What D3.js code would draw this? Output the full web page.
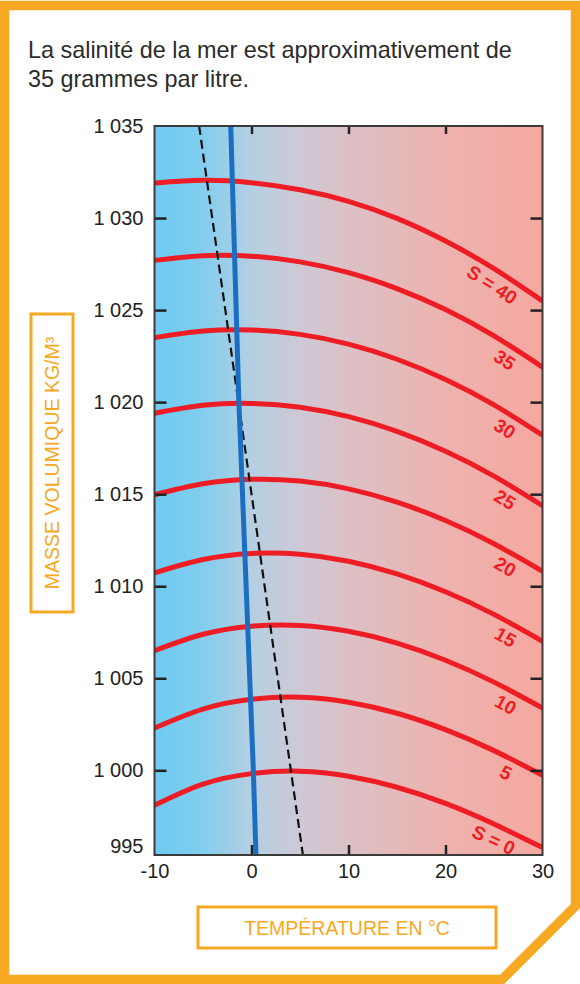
<!DOCTYPE html>
<html>
<head>
<meta charset="utf-8">
<script src="https://cdn.jsdelivr.net/npm/d3@7"></script>
<style>
  body { margin: 0; background: #fff; }
  svg { display: block; }
</style>
</head>
<body>
<svg id="svg" width="580" height="984"></svg>
<script>
// temperatures (°C) at which the curves were read
const temps = [-10, -5, 0, 5, 10, 15, 20, 25, 30]
const salinities = [0, 5, 10, 15, 20, 25, 30, 35, 40]
const curveLabels = ["S = 0", "5", "10", "15", "20", "25", "30", "35", "S = 40"]

// density kg/m3 for each salinity
const dens0  = [998.1, 999.25, 999.82, 999.95, 999.68, 999.08, 998.2, 997.08, 995.8]
const dens5  = [1002.3, 1003.33, 1003.86, 1003.97, 1003.7, 1003.1, 1002.21, 1001.07, 999.73]
const dens10 = [1006.5, 1007.39, 1007.83, 1007.87, 1007.55, 1006.91, 1005.98, 1004.79, 1003.38]
const dens15 = [1010.72, 1011.45, 1011.78, 1011.74, 1011.36, 1010.67, 1009.7, 1008.47, 1007.01]
const dens20 = [1014.97, 1015.57, 1015.81, 1015.71, 1015.29, 1014.57, 1013.57, 1012.31, 1010.81]
const dens25 = [1019.4, 1019.83, 1019.93, 1019.72, 1019.21, 1018.41, 1017.33, 1015.98, 1014.37]
const dens30 = [1023.5, 1023.86, 1023.92, 1023.68, 1023.15, 1022.33, 1021.23, 1019.85, 1018.2]
const dens35 = [1027.7, 1027.95, 1027.93, 1027.62, 1027.04, 1026.17, 1025.03, 1023.6, 1021.9]
const dens40 = [1031.9, 1032.05, 1031.92, 1031.54, 1030.91, 1029.98, 1028.75, 1027.25, 1025.5]
const densities = [dens0, dens5, dens10, dens15, dens20, dens25, dens30, dens35, dens40]

// freezing point line (blue) and temperature of maximum density (dashed)
const freezeT = [-2.14, -1.3, 0.19, 0.46]
const freezeD = [1035, 1020, 1000, 995.4]
const maxDensT = [-5.4, 5.3]
const maxDensD = [1035, 995.4]

const xTicks = [-10, 0, 10, 20, 30]
const yTicks = [995.4, 1000, 1005, 1010, 1015, 1020, 1025, 1030, 1035]
const yDomain = [995.4, 1035]
const xDomain = [-10, 30]

const titleLines = ["La salinité de la mer est approximativement de", "35 grammes par litre."]
const xTitle = "TEMPÉRATURE EN °C"
const yTitle = "MASSE VOLUMIQUE KG/M³"

const orange = "#f7a823"
const red = "#ee1d25"
const font = "'Liberation Sans', Arial, sans-serif"

const m = { left: 154.5, right: 542.5, top: 126, bottom: 855 }
const x = d3.scaleLinear(xDomain, [m.left, m.right])
const y = d3.scaleLinear(yDomain, [m.bottom, m.top])
const locale = d3.formatLocale({ decimal: ",", thousands: " ", grouping: [3], currency: ["", "€"], minus: "-" })
const fmt = locale.format(",d")

const svg = d3.select("#svg")

// orange frame with cut corner
svg.append("path")
	.attr("d", "M4.5,5.5 H575.5 V906 L502,979.5 H4.5 Z")
	.attr("fill", "none").attr("stroke", orange).attr("stroke-width", 9.5).attr("stroke-linejoin", "miter")

svg.append("g").selectAll("text").data(titleLines).join("text")
	.attr("x", 28).attr("y", (_, i) => 58 + i * 29)
	.attr("font-family", font).attr("font-size", 23.4).attr("fill", "#2b2b2b")
	.text(d => d)

const defs = svg.append("defs")
const grad = defs.append("linearGradient").attr("id", "bg").attr("x1", 0).attr("x2", 1).attr("y1", 0).attr("y2", 0)
const stops = [[0, "#6ecbf1"], [0.12, "#80cdef"], [0.25, "#b5cfe2"], [0.37, "#cdc9d6"], [0.5, "#dcc0c5"], [0.76, "#eeb2ae"], [1, "#f5a89f"]]
grad.selectAll("stop").data(stops).join("stop").attr("offset", d => d[0]).attr("stop-color", d => d[1])
defs.append("clipPath").attr("id", "plotclip").append("rect")
	.attr("x", m.left).attr("y", m.top).attr("width", m.right - m.left).attr("height", m.bottom - m.top)

svg.append("rect")
	.attr("x", m.left).attr("y", m.top).attr("width", m.right - m.left).attr("height", m.bottom - m.top)
	.attr("fill", "url(#bg)")

const plot = svg.append("g").attr("clip-path", "url(#plotclip)")

const line = d3.line().x(d => x(d[0])).y(d => y(d[1])).curve(d3.curveNatural)
const series = salinities.map((s, i) => ({ s, label: curveLabels[i], pts: temps.map((t, j) => [t, densities[i][j]]) }))

plot.selectAll("path.curve").data(series).join("path").attr("class", "curve")
	.attr("d", d => line(d.pts)).attr("fill", "none").attr("stroke", red).attr("stroke-width", 5)

const straight = d3.line().x(d => x(d[0])).y(d => y(d[1]))
plot.append("path")
	.attr("d", straight(maxDensT.map((t, i) => [t, maxDensD[i]])))
	.attr("fill", "none").attr("stroke", "#111").attr("stroke-width", 2.2).attr("stroke-dasharray", "9,5")
plot.append("path")
	.attr("d", straight(freezeT.map((t, i) => [t, freezeD[i]])))
	.attr("fill", "none").attr("stroke", "#1a6fc2").attr("stroke-width", 5)

// salinity labels, rotated along the curve
const labelG = svg.append("g")
series.forEach(d => {
	const f = d3.scaleLinear(temps, d.pts.map(p => p[1]))
	const t = d.label.length > 2 ? 25.6 : 26.9
	const px = x(t), py = y(f(t))
	const ang = Math.atan2(y(f(t + 1)) - y(f(t - 1)), x(t + 1) - x(t - 1)) * 180 / Math.PI
	labelG.append("text")
		.attr("transform", `translate(${px},${py}) rotate(${ang})`)
		.attr("text-anchor", "middle").attr("dy", 21)
		.attr("font-family", font).attr("font-weight", "bold").attr("font-size", 19)
		.attr("fill", red).text(d.label)
})

// axes with inward ticks
const axisStyle = g => {
	g.select(".domain").remove()
	g.selectAll(".tick line").attr("stroke", "#222").attr("stroke-width", 2.5)
	g.selectAll(".tick text").attr("font-family", font).attr("font-size", 20).attr("fill", "#222")
}
const yAxis = svg.append("g").attr("transform", `translate(${m.left},0)`)
	.call(d3.axisLeft(y).tickValues(yTicks).tickSize(-12).tickPadding(11).tickFormat(fmt))
	.call(axisStyle)
yAxis.selectAll(".tick").filter(d => d === yDomain[0] || d === yDomain[1]).select("line").remove()
yAxis.selectAll(".tick").filter(d => d === yDomain[0]).select("text").attr("dy", "-0.15em")

svg.append("g").attr("transform", `translate(${m.right},0)`)
	.call(d3.axisRight(y).tickValues(yTicks.filter(v => v > yDomain[0] && v < yDomain[1])).tickSize(-12).tickFormat(""))
	.call(axisStyle)

const xAxis = svg.append("g").attr("transform", `translate(0,${m.bottom})`)
	.call(d3.axisBottom(x).tickValues(xTicks).tickSize(-10).tickPadding(9).tickFormat(locale.format("d")))
	.call(axisStyle)
xAxis.selectAll(".tick").filter(d => d === xDomain[0] || d === xDomain[1]).select("line").remove()

svg.append("g").attr("transform", `translate(0,${m.top})`)
	.call(d3.axisTop(x).tickValues(xTicks.filter(v => v > xDomain[0] && v < xDomain[1])).tickSize(-8).tickFormat(""))
	.call(axisStyle)

svg.append("rect")
	.attr("x", m.left).attr("y", m.top).attr("width", m.right - m.left).attr("height", m.bottom - m.top)
	.attr("fill", "none").attr("stroke", "#3a3a3a").attr("stroke-width", 2)

// axis titles in orange boxes
svg.append("rect").attr("x", 31).attr("y", 314).attr("width", 42).attr("height", 298)
	.attr("fill", "none").attr("stroke", orange).attr("stroke-width", 3)
svg.append("text").attr("transform", "translate(52,463) rotate(-90)")
	.attr("text-anchor", "middle").attr("dy", "0.36em")
	.attr("font-family", font).attr("font-size", 19.5).attr("fill", orange).text(yTitle)

svg.append("rect").attr("x", 198).attr("y", 907).attr("width", 298).attr("height", 41)
	.attr("fill", "none").attr("stroke", orange).attr("stroke-width", 3)
svg.append("text").attr("x", 347).attr("y", 928)
	.attr("text-anchor", "middle").attr("dy", "0.36em")
	.attr("font-family", font).attr("font-size", 19.5).attr("fill", orange).text(xTitle)
</script>
</body>
</html>
